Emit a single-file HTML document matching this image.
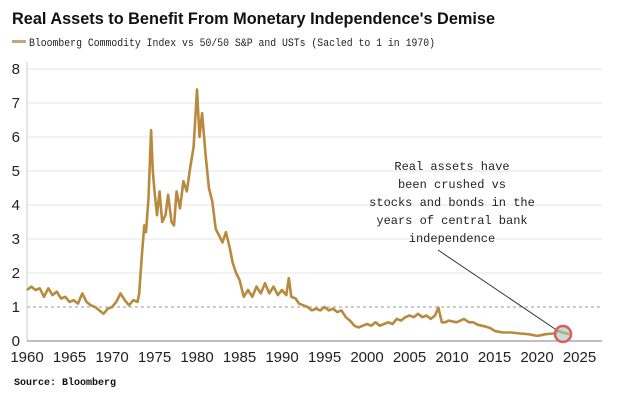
<!DOCTYPE html>
<html><head><meta charset="utf-8"><style>
html,body{margin:0;padding:0;background:#fff;width:620px;height:404px;overflow:hidden}
svg{display:block}
</style></head><body>
<svg id="s" width="620" height="404" viewBox="0 0 620 404" xmlns="http://www.w3.org/2000/svg" font-family="Liberation Sans, sans-serif">
<text x="12" y="24" font-size="16.5" font-weight="bold" fill="#111" textLength="483" lengthAdjust="spacingAndGlyphs">Real Assets to Benefit From Monetary Independence's Demise</text>
<rect x="12" y="40" width="14" height="3" fill="#c2a878"/>
<text x="29" y="46" font-size="11" font-family="Liberation Mono, monospace" fill="#222" textLength="406" lengthAdjust="spacingAndGlyphs">Bloomberg Commodity Index vs 50/50 S&amp;P and USTs (Sacled to 1 in 1970)</text>
<g stroke="#e6e6e6" stroke-width="1">
<line x1="27" x2="602" y1="69" y2="69"/><line x1="27" x2="602" y1="103" y2="103"/>
<line x1="27" x2="602" y1="137" y2="137"/><line x1="27" x2="602" y1="171" y2="171"/>
<line x1="27" x2="602" y1="205" y2="205"/><line x1="27" x2="602" y1="239" y2="239"/>
<line x1="27" x2="602" y1="273" y2="273"/>
</g>
<line x1="27" x2="602" y1="307" y2="307" stroke="#999" stroke-dasharray="3,3"/>
<line x1="27" x2="27" y1="62" y2="341" stroke="#ccc"/>
<line x1="27" x2="602" y1="341" y2="341" stroke="#999" stroke-width="1.2"/>
<g font-size="15" fill="#222" text-anchor="end">
<text x="20" y="74">8</text><text x="20" y="108">7</text><text x="20" y="142">6</text><text x="20" y="176">5</text>
<text x="20" y="210">4</text><text x="20" y="244">3</text><text x="20" y="278">2</text><text x="20" y="312">1</text><text x="20" y="346">0</text>
</g>
<g id="xl" font-size="15" fill="#222" text-anchor="middle"></g>
<path id="p" fill="none" stroke="#b88a3e" stroke-width="2.6" stroke-linejoin="round"/>
<line x1="438" y1="250" x2="558" y2="331" stroke="#333" stroke-width="1"/>
<circle cx="563" cy="334" r="8" fill="#9fc7c0" fill-opacity="0.6" stroke="#e05a5a" stroke-width="2.5"/>
<g font-size="12" fill="#222" text-anchor="middle" font-family="Liberation Mono, monospace">
<text x="452" y="170">Real assets have</text>
<text x="452" y="188">been crushed vs</text>
<text x="452" y="206">stocks and bonds in the</text>
<text x="452" y="224">years of central bank</text>
<text x="452" y="242">independence</text>
</g>
<text x="14" y="385" font-size="10" font-weight="bold" font-family="Liberation Mono, monospace" fill="#111">Source: Bloomberg</text>
</svg>
<script>
var d=[[1960,1.5],[1960.5,1.6],[1961,1.5],[1961.5,1.55],[1962,1.3],[1962.5,1.55],[1963,1.35],[1963.5,1.45],[1964,1.25],[1964.5,1.3],[1965,1.15],[1965.5,1.2],[1966,1.1],[1966.5,1.4],[1967,1.15],[1967.5,1.05],[1968,1.0],[1968.5,0.9],[1969,0.8],[1969.5,0.95],[1970,1.0],[1970.5,1.15],[1971,1.4],[1971.5,1.2],[1972,1.05],[1972.5,1.2],[1973,1.15],[1973.2,1.4],[1973.5,2.5],[1973.8,3.4],[1974,3.2],[1974.3,4.2],[1974.6,6.2],[1974.8,5.0],[1975,4.4],[1975.3,3.7],[1975.6,4.4],[1975.9,3.5],[1976.3,3.7],[1976.6,4.3],[1977,3.5],[1977.3,3.4],[1977.6,4.4],[1978,3.9],[1978.4,4.7],[1978.8,4.4],[1979.2,5.1],[1979.6,5.7],[1980,7.4],[1980.3,6.0],[1980.6,6.7],[1981,5.5],[1981.4,4.5],[1981.8,4.1],[1982.2,3.3],[1982.6,3.1],[1983,2.9],[1983.4,3.2],[1983.8,2.8],[1984.2,2.3],[1984.6,2.0],[1985,1.8],[1985.5,1.3],[1986,1.5],[1986.5,1.3],[1987,1.6],[1987.5,1.4],[1988,1.7],[1988.5,1.4],[1989,1.6],[1989.5,1.35],[1990,1.5],[1990.5,1.35],[1990.8,1.85],[1991.1,1.3],[1991.6,1.25],[1992,1.1],[1992.5,1.05],[1993,1.0],[1993.5,0.9],[1994,0.95],[1994.5,0.9],[1995,1.0],[1995.5,0.9],[1996,0.95],[1996.5,0.85],[1997,0.9],[1997.5,0.7],[1998,0.6],[1998.5,0.45],[1999,0.4],[1999.5,0.45],[2000,0.5],[2000.5,0.45],[2001,0.55],[2001.5,0.45],[2002,0.5],[2002.5,0.55],[2003,0.5],[2003.5,0.65],[2004,0.6],[2004.5,0.7],[2005,0.75],[2005.5,0.7],[2006,0.8],[2006.5,0.7],[2007,0.75],[2007.5,0.65],[2008,0.75],[2008.4,0.98],[2008.8,0.55],[2009.2,0.55],[2009.6,0.6],[2010,0.58],[2010.5,0.55],[2011,0.6],[2011.4,0.65],[2012,0.55],[2012.5,0.55],[2013,0.48],[2013.5,0.45],[2014,0.42],[2014.5,0.38],[2015,0.3],[2015.5,0.27],[2016,0.25],[2017,0.25],[2018,0.22],[2019,0.2],[2020,0.15],[2020.5,0.17],[2021,0.2],[2022,0.22],[2022.5,0.3],[2023,0.25],[2023.5,0.22],[2023.8,0.2]];
function X(y){return 27+(y-1960)*8.5}function Y(v){return 341-34*v}
var s="";d.forEach(function(p,i){s+=(i?"L":"M")+X(p[0]).toFixed(1)+","+Y(p[1]).toFixed(1)});
document.getElementById("p").setAttribute("d",s);
var g=document.getElementById("xl"),h="";for(var y=1960;y<=2025;y+=5)h+='<text x="'+X(y)+'" y="362">'+y+'</text>';g.innerHTML=h;
</script>
</body></html>
